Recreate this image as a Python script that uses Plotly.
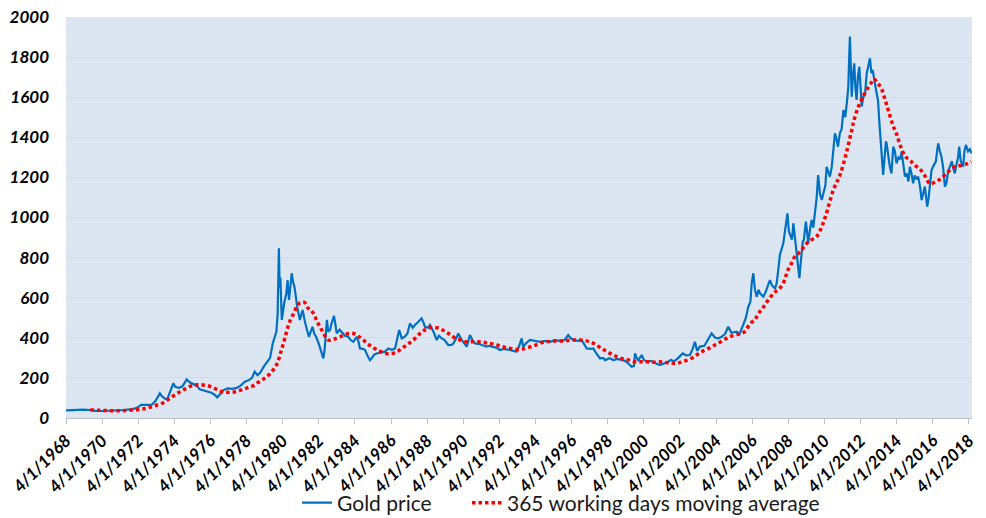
import plotly.graph_objects as go

# Gold price (USD/oz), time in decimal years
gold_t = [
    1968.25, 1968.5, 1968.8, 1969.2, 1969.6, 1969.9, 1970.3, 1970.7, 1971.1, 1971.5,
    1971.9, 1972.1, 1972.3, 1972.4, 1972.7, 1973.0, 1973.2, 1973.45, 1973.55, 1973.7,
    1973.85, 1974.0, 1974.19, 1974.3, 1974.5, 1974.7, 1974.93, 1975.1, 1975.3, 1975.5,
    1975.65, 1975.9, 1976.1, 1976.3, 1976.5, 1976.62, 1976.8, 1976.95, 1977.2, 1977.45,
    1977.7, 1977.9, 1978.16, 1978.4, 1978.55, 1978.7, 1978.85, 1979.0, 1979.2, 1979.4,
    1979.55, 1979.7, 1979.8, 1979.9, 1979.97, 1980.0, 1980.04, 1980.08, 1980.12, 1980.2,
    1980.26, 1980.33, 1980.45, 1980.52, 1980.6, 1980.68, 1980.75, 1980.82, 1980.9, 1981.0,
    1981.05, 1981.2, 1981.28, 1981.35, 1981.5, 1981.6, 1981.7, 1981.8, 1981.9, 1982.0,
    1982.1, 1982.25, 1982.35, 1982.45, 1982.5, 1982.57, 1982.62, 1982.7, 1982.77, 1982.87,
    1982.95, 1983.09, 1983.18, 1983.24, 1983.4, 1983.52, 1983.7, 1983.88, 1984.0, 1984.16,
    1984.35, 1984.45, 1984.53, 1984.7, 1984.81, 1984.95, 1985.08, 1985.2, 1985.3, 1985.45,
    1985.7, 1985.91, 1986.1, 1986.3, 1986.47, 1986.6, 1986.7, 1986.84, 1987.0, 1987.15,
    1987.3, 1987.45, 1987.57, 1987.76, 1987.94, 1988.05, 1988.13, 1988.3, 1988.4, 1988.6,
    1988.78, 1988.9, 1989.05, 1989.2, 1989.42, 1989.6, 1989.7, 1989.9, 1989.97, 1990.16,
    1990.3, 1990.44, 1990.62, 1990.75, 1990.9, 1991.1, 1991.27, 1991.55, 1991.7, 1991.9,
    1992.1, 1992.28, 1992.5, 1992.83, 1993.2, 1993.35, 1993.48, 1993.57, 1993.75, 1993.94,
    1994.2, 1994.5, 1994.8, 1995.05, 1995.3, 1995.6, 1995.85, 1996.06, 1996.2, 1996.34,
    1996.6, 1996.8, 1997.0, 1997.08, 1997.3, 1997.45, 1997.6, 1997.82, 1998.0, 1998.1,
    1998.35, 1998.56, 1998.8, 1999.02, 1999.2, 1999.39, 1999.57, 1999.7, 1999.76, 1999.85,
    1999.94, 2000.13, 2000.25, 2000.4, 2000.6, 2000.77, 2000.95, 2001.14, 2001.35, 2001.6,
    2001.75, 2001.9, 2002.1, 2002.4, 2002.6, 2002.8, 2002.95, 2003.08, 2003.2, 2003.35,
    2003.6, 2003.8, 2004.0, 2004.2, 2004.37, 2004.55, 2004.75, 2004.92, 2005.1, 2005.39,
    2005.55, 2005.75, 2005.9, 2006.03, 2006.15, 2006.22, 2006.31, 2006.4, 2006.5, 2006.6,
    2006.68, 2006.87, 2007.0, 2007.23, 2007.35, 2007.51, 2007.6, 2007.69, 2007.78, 2007.97,
    2008.05, 2008.12, 2008.2, 2008.28, 2008.35, 2008.45, 2008.53, 2008.62, 2008.71, 2008.8,
    2008.86, 2008.92, 2008.98, 2009.05, 2009.11, 2009.17, 2009.22, 2009.3, 2009.35, 2009.45,
    2009.54, 2009.63, 2009.72, 2009.82, 2009.9, 2010.0, 2010.1, 2010.2, 2010.3, 2010.37,
    2010.47, 2010.55, 2010.65, 2010.75, 2010.83, 2010.92, 2011.0, 2011.1, 2011.2, 2011.3,
    2011.4, 2011.5, 2011.57, 2011.62, 2011.66, 2011.7, 2011.76, 2011.82, 2011.9, 2011.96,
    2012.03, 2012.1, 2012.18, 2012.25, 2012.31, 2012.4, 2012.5, 2012.59, 2012.68, 2012.77,
    2012.85, 2012.92, 2013.02, 2013.14, 2013.22, 2013.28, 2013.34, 2013.38, 2013.43, 2013.5,
    2013.58, 2013.65, 2013.69, 2013.78, 2013.87, 2013.96, 2014.06, 2014.15, 2014.24, 2014.35,
    2014.45, 2014.52, 2014.62, 2014.71, 2014.8, 2014.9, 2014.98, 2015.07, 2015.16, 2015.25,
    2015.35, 2015.44, 2015.55, 2015.63, 2015.72, 2015.81, 2015.88, 2015.94, 2016.02, 2016.1,
    2016.18, 2016.3, 2016.42, 2016.5, 2016.55, 2016.64, 2016.73, 2016.82, 2016.92, 2017.0,
    2017.1, 2017.19, 2017.3, 2017.4, 2017.47, 2017.55, 2017.65, 2017.71, 2017.8, 2017.87,
    2017.93, 2018.0, 2018.08, 2018.2, 2018.3, 2018.4,
]
gold_v = [
    38, 40, 39, 42, 40, 36, 35, 36, 38, 40,
    44, 48, 58, 65, 65, 66, 85, 123, 110, 98,
    92, 130, 173, 156, 150, 158, 192, 178, 168, 160,
    143, 135, 130, 126, 115, 103, 120, 138, 148, 145,
    150, 160, 181, 190, 200, 231, 214, 225, 256, 280,
    300, 373, 400, 430, 520, 638, 846, 650, 700, 489,
    540, 572, 620, 688, 589, 650, 722, 680, 655, 590,
    555, 489, 520, 539, 472, 440, 405, 430, 455, 420,
    405, 370, 339, 320, 297, 340, 405, 489, 430, 439,
    470, 509, 460, 422, 440, 430, 410, 405, 390, 380,
    405, 380, 347, 345, 339, 310, 289, 300, 315, 322,
    325, 331, 347, 340, 347, 400, 439, 397, 405, 420,
    472, 450, 464, 480, 497, 475, 455, 450, 464, 430,
    389, 410, 397, 390, 364, 365, 372, 405, 422, 389,
    370, 356, 414, 390, 372, 370, 364, 356, 360, 356,
    350, 339, 345, 339, 331, 360, 397, 356, 375, 389,
    385, 380, 385, 380, 388, 385, 388, 414, 398, 389,
    385, 389, 360, 347, 345, 347, 325, 297, 300, 289,
    298, 289, 295, 289, 285, 272, 256, 260, 322, 300,
    289, 314, 290, 281, 285, 281, 270, 264, 270, 281,
    290, 282, 295, 322, 312, 314, 345, 380, 335, 356,
    360, 395, 422, 400, 397, 405, 420, 455, 425, 430,
    420, 464, 500, 555, 580, 672, 722, 640, 605, 640,
    622, 605, 630, 688, 660, 647, 670, 738, 813, 871,
    920, 988, 1021, 930, 913, 890, 971, 900, 821, 746,
    697, 760, 805, 880, 888, 954, 979, 920, 871, 940,
    988, 950, 1021, 1100, 1212, 1120, 1087, 1120, 1160, 1253,
    1220, 1204, 1250, 1340, 1420, 1390, 1353, 1420, 1440, 1536,
    1500, 1580, 1652, 1800, 1902, 1780, 1603, 1700, 1769, 1650,
    1586, 1700, 1752, 1650, 1553, 1600, 1619, 1719, 1760, 1794,
    1720, 1736, 1680, 1619, 1580, 1486, 1390, 1387, 1300, 1212,
    1300, 1380, 1370, 1310, 1253, 1220, 1353, 1330, 1270, 1300,
    1290, 1328, 1260, 1204, 1220, 1180, 1253, 1220, 1171, 1210,
    1190, 1204, 1150, 1087, 1120, 1154, 1100, 1054, 1100, 1180,
    1237, 1260, 1280, 1340, 1370, 1330, 1303, 1250, 1154, 1170,
    1230, 1253, 1280, 1240, 1220, 1260, 1300, 1353, 1280, 1270,
    1253, 1330, 1362, 1330, 1340, 1320,
]

# 365 working days moving average
ma_t = [
    1969.6, 1970.0, 1970.5, 1971.0, 1971.5, 1972.0, 1972.35, 1972.68, 1972.99, 1973.3,
    1973.64, 1973.92, 1974.19, 1974.47, 1974.75, 1975.08, 1975.39, 1975.67, 1975.98, 1976.31,
    1976.59, 1976.87, 1977.15, 1977.46, 1977.79, 1978.07, 1978.35, 1978.62, 1978.86, 1979.12,
    1979.36, 1979.6, 1979.82, 1979.95, 1980.06, 1980.17, 1980.28, 1980.39, 1980.5, 1980.61,
    1980.75, 1980.89, 1981.02, 1981.21, 1981.45, 1981.61, 1981.81, 1982.0, 1982.16, 1982.31,
    1982.5, 1982.77, 1983.05, 1983.42, 1983.92, 1984.25, 1984.49, 1984.71, 1984.93, 1985.17,
    1985.41, 1985.67, 1985.97, 1986.32, 1986.6, 1986.84, 1987.08, 1987.3, 1987.52, 1987.76,
    1987.97, 1988.18, 1988.5, 1988.8, 1989.1, 1989.32, 1989.57, 1989.81, 1990.1, 1990.4,
    1990.71, 1991.04, 1991.36, 1991.65, 1991.96, 1992.28, 1992.56, 1992.87, 1993.2, 1993.51,
    1993.81, 1994.12, 1994.4, 1994.68, 1994.99, 1995.32, 1995.66, 1995.97, 1996.34, 1996.67,
    1997.02, 1997.3, 1997.58, 1997.82, 1998.06, 1998.3, 1998.56, 1998.83, 1999.11, 1999.42,
    1999.72, 2000.03, 2000.4, 2000.74, 2001.08, 2001.38, 2001.7, 2002.06, 2002.4, 2002.9,
    2003.35, 2003.9, 2004.46, 2005.0, 2005.57, 2005.85, 2006.12, 2006.4, 2006.58, 2006.77,
    2006.95, 2007.23, 2007.51, 2007.69, 2007.93, 2008.12, 2008.24, 2008.43, 2008.61, 2008.8,
    2008.98, 2009.17, 2009.35, 2009.8, 2010.1, 2010.33, 2010.74, 2011.11, 2011.48, 2011.76,
    2011.94, 2012.22, 2012.5, 2012.82, 2013.0, 2013.2, 2013.4, 2013.6, 2013.78, 2014.04,
    2014.25, 2014.45, 2014.74, 2015.0, 2015.2, 2015.55, 2015.8, 2016.1, 2016.4, 2016.64,
    2017.1, 2017.4, 2017.6, 2018.12, 2018.38,
]
ma_v = [
    40, 39, 37, 36, 37, 40, 43, 48, 56, 65,
    76, 93, 110, 126, 140, 156, 165, 166, 163, 155,
    143, 131, 128, 128, 135, 143, 153, 161, 176, 190,
    206, 226, 253, 273, 301, 336, 369, 405, 442, 475,
    502, 527, 555, 575, 577, 552, 539, 514, 480, 455,
    425, 389, 392, 405, 422, 419, 405, 389, 372, 356,
    343, 331, 322, 322, 331, 347, 361, 376, 392, 414,
    430, 442, 452, 450, 439, 427, 414, 397, 389, 380,
    380, 380, 378, 372, 369, 359, 352, 347, 342, 344,
    351, 359, 369, 378, 381, 384, 384, 386, 389, 389,
    386, 378, 367, 352, 339, 326, 314, 303, 294, 289,
    281, 281, 281, 278, 281, 278, 274, 273, 281, 298,
    325, 350, 378, 405, 420, 432, 470, 490, 520, 540,
    564, 600, 628, 640, 665, 710, 740, 772, 805, 821,
    838, 860, 879, 904, 954, 1012, 1137, 1212, 1328, 1436,
    1503, 1573, 1622, 1669, 1690, 1670, 1644, 1590, 1536, 1460,
    1415, 1358, 1303, 1285, 1265, 1240, 1210, 1168, 1178, 1190,
    1228, 1250, 1255, 1267, 1278,
]

# Category labels every two years, placed on 1 April
label_years = list(range(1968, 2019, 2))
tick_labels = [f"4/1/{y}" for y in label_years]
tick_pos = [y + 0.25 for y in label_years]

tick_font = dict(family="Lato", size=17, color="#000000", weight="bold", style="italic")
legend_font = dict(family="Lato", size=21, color="#1A1A1A")

fig = go.Figure()
fig.add_trace(go.Scatter(
    x=gold_t, y=gold_v, mode="lines", name="Gold price",
    line=dict(color="#0070C0", width=2.2), legend="legend",
))
fig.add_trace(go.Scatter(
    x=ma_t, y=ma_v, mode="lines", name="365 working days moving average",
    line=dict(color="#FF0000", width=3.5, dash="3.5px,3px", shape="spline"),
    legend="legend2",
))

fig.update_layout(
    width=986, height=518,
    margin=dict(l=66, r=14, t=17, b=100, autoexpand=False),
    paper_bgcolor="#FFFFFF",
    plot_bgcolor="#DCE6F2",
    showlegend=True,
    legend=dict(
        orientation="h", x=0.255, xanchor="left", y=-0.212, yanchor="middle",
        font=legend_font, bgcolor="rgba(0,0,0,0)",
    ),
    legend2=dict(
        orientation="h", x=0.4426, xanchor="left", y=-0.212, yanchor="middle",
        font=legend_font, bgcolor="rgba(0,0,0,0)",
    ),
    xaxis=dict(
        range=[1968.25, 2018.42], automargin=False,
        tickmode="array", tickvals=tick_pos, ticktext=tick_labels,
        tickangle=-45, tickfont=tick_font,
        ticks="outside", ticklen=5, tickcolor="#BFBFBF",
        showline=True, linecolor="#BFBFBF", linewidth=1,
        showgrid=False, zeroline=False,
    ),
    yaxis=dict(
        range=[0, 2000], dtick=200, tick0=0, automargin=False,
        tickfont=tick_font, ticklabelstandoff=16,
        gridcolor="#D9D9D9", gridwidth=1,
        showline=False, zeroline=False,
    ),
)

fig.write_html("out.html")
